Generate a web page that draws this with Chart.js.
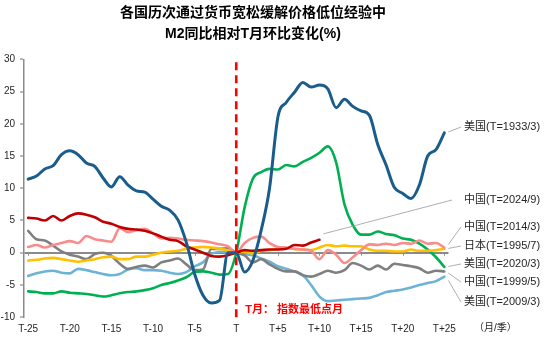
<!DOCTYPE html>
<html lang="zh-CN">
<head>
<meta charset="utf-8">
<title>M2同比相对T月环比变化</title>
<script src="https://cdn.jsdelivr.net/npm/chart.js@4.4.1/dist/chart.umd.min.js"></script>
<style>
  html, body { margin: 0; padding: 0; background: #fff; }
  #wrap { width: 550px; height: 341px; }
</style>
</head>
<body>
<div id="wrap"><canvas id="chart" width="550" height="341"></canvas></div>
<script>
// ===== Data (months relative to T, M2 yoy change vs month T, %) =====
const months = [-25, -24, -23, -22, -21, -20, -19, -18, -17, -16, -15, -14, -13, -12, -11, -10, -9, -8, -7, -6, -5, -4, -3, -2, -1,
  0, 1, 2, 3, 4, 5, 6, 7, 8, 9, 10, 11, 12, 13, 14, 15, 16, 17, 18, 19, 20, 21, 22, 23, 24, 25];

const xTickValues = [-25, -20, -15, -10, -5, 0, 5, 10, 15, 20, 25];
const xTickLabels = ['T-25', 'T-20', 'T-15', 'T-10', 'T-5', 'T', 'T+5', 'T+10', 'T+15', 'T+20', 'T+25'];

const us1933 = [11.4, 11.9, 13.0, 13.5, 15.2, 15.8, 15.2, 13.9, 13.4, 11.6, 10.2, 11.8, 10.5, 9.6, 9.4, 8.3, 7.2, 6.6, 5.1, 1.6, -3.3, -6.6, -7.8, -7.4, 0.0,
  0, -3.0, -1.2, 3.5, 10.0, 21.0, 23.3, 24.9, 26.4, 25.7, 26.0, 25.4, 22.5, 23.8, 22.7, 22.0, 21.3, 16.8, 13.6, 10.1, 9.2, 8.4, 10.5, 15.0, 16.0, 18.6];
const cn2024 = [5.4, 5.3, 5.0, 5.7, 5.0, 5.7, 6.1, 5.9, 5.5, 4.8, 4.5, 4.0, 3.7, 3.6, 3.4, 3.0, 2.5, 2.0, 1.8, 1.0, 0.5, 0.0, -0.5, -0.6, -0.4,
  0, 0.4, 0.3, 0.4, 0.5, 0.5, 0.6, 1.2, 1.1, 1.6, 2.0];
const cn2014 = [0.9, 1.2, 0.8, 1.2, 1.5, 1.8, 1.5, 2.6, 2.1, 1.9, 1.7, 3.8, 3.2, 3.5, 3.7, 3.0, 2.2, 2.3, 2.2, 2.0, 1.9, 1.8, 1.6, 1.3, 1.0,
  0, 1.5, 2.3, 2.5, 1.5, 0.9, 0.8, 0.6, 0.5, 0.3, -1.0, 0.4, -0.3, -1.6, -0.7, 0.4, 1.3, 1.2, 1.4, 1.2, 1.5, 1.4, 1.9, 1.4, 1.5, 0.8];
const jp1995 = [-1.2, -1.1, -0.9, -0.8, -1.0, -1.2, -1.4, -1.2, -1.0, -0.7, -0.6, -1.0, -1.0, -0.6, -0.6, -0.3, 0.0, 0.2, 0.3, 0.6, 0.8, 0.9, 0.8, 0.6, 0.4,
  0, 0.2, -0.1, 0.3, 0.4, 0.6, 0.7, 0.6, 0.5, 0.4, 0.8, 1.2, 1.0, 1.1, 1.0, 1.0, 0.5, 0.3, 0.3, 0.2, 0.2, 0.5, 0.3, 0.3, 0.4, 0.6];
const us2020 = [-6.0, -6.1, -6.3, -6.3, -6.0, -6.2, -6.3, -6.4, -6.6, -6.8, -6.6, -6.3, -6.1, -6.0, -5.8, -5.5, -5.0, -4.7, -4.3, -3.8, -3.0, -2.9, -3.1, -3.4, -3.3,
  0, 7.0, 11.5, 12.5, 13.0, 12.9, 13.6, 13.4, 14.1, 14.7, 15.5, 16.5, 14.0, 7.5, 4.3, 2.8, 2.8, 3.3, 2.9, 2.7, 2.2, 2.0, 1.4, 0.5, -0.7, -2.2];
const cn1999 = [3.4, 2.1, 1.9, 1.1, 0.2, -0.3, -0.6, -1.0, -0.2, 0.0, -0.5, -1.7, -2.5, -2.2, -2.0, -2.3, -1.5, -1.2, -0.9, -1.8, -2.7, -2.6, 0.6, 0.6, 0.7,
  0, -0.4, -1.5, -1.0, -1.8, -2.5, -2.9, -2.9, -3.5, -3.7, -3.3, -2.8, -3.1, -2.7, -1.6, -2.0, -2.6, -2.0, -2.6, -1.7, -1.9, -2.1, -2.4, -3.1, -2.8, -2.9];
const us2009 = [-3.6, -3.2, -2.9, -2.8, -3.1, -3.2, -2.5, -2.7, -3.0, -3.3, -3.5, -3.3, -2.6, -2.4, -2.7, -2.7, -2.8, -3.1, -3.3, -3.0, -2.1, -1.5, -0.2, 0.1, 0.2,
  0, -0.2, -0.4, -0.9, -1.4, -2.1, -2.5, -2.9, -3.5, -5.0, -6.8, -7.5, -7.4, -7.3, -7.2, -7.1, -7.0, -6.6, -6.1, -5.9, -5.7, -5.4, -5.0, -4.7, -4.4, -3.7];

// ===== Series styling (first entry is drawn on top) =====
const series = [
  { name: '美国(T=1933/3)', values: us1933, color: '#1a5d8b', width: 3,   labelY: 127 },
  { name: '中国(T=2024/9)', values: cn2024, color: '#c00000', width: 2.6, labelY: 200 },
  { name: '中国(T=2014/3)', values: cn2014, color: '#f98b8b', width: 2.6, labelY: 227 },
  { name: '日本(T=1995/7)', values: jp1995, color: '#ffc000', width: 2.6, labelY: 246 },
  { name: '美国(T=2020/3)', values: us2020, color: '#00b050', width: 2.6, labelY: 264 },
  { name: '中国(T=1999/5)', values: cn1999, color: '#7f7f7f', width: 2.6, labelY: 282 },
  { name: '美国(T=2009/3)', values: us2009, color: '#6db3d6', width: 2.6, labelY: 302 },
];

const titleLines = ['各国历次通过货币宽松缓解价格低位经验中', 'M2同比相对T月环比变化(%)'];
const markerText = 'T月： 指数最低点月';
const unitText = '（月/季）';

const fontStack = '"Liberation Sans", "Noto Sans CJK SC", sans-serif';
const axisGray = '#8a8a8a';

Chart.defaults.font.family = fontStack;
Chart.defaults.color = '#262626';

// ===== Extra drawing: title, T marker, end labels =====
const decorations = {
  id: 'decorations',
  beforeDatasetsDraw(chart) {
    const { ctx, scales: { x, y } } = chart;
    const y0 = y.getPixelForValue(0);
    ctx.save();
    ctx.strokeStyle = axisGray;
    ctx.lineWidth = 1;
    xTickValues.forEach(v => {
      const px = Math.round(x.getPixelForValue(v)) + 0.5;
      ctx.beginPath();
      ctx.moveTo(px, y0);
      ctx.lineTo(px, y0 + 3);
      ctx.stroke();
    });
    ctx.restore();
  },
  afterDatasetsDraw(chart) {
    const { ctx, chartArea, scales: { x } } = chart;
    const tx = x.getPixelForValue(0);
    ctx.save();
    ctx.strokeStyle = '#ff0000';
    ctx.lineWidth = 2.6;
    ctx.setLineDash([8, 5]);
    ctx.beginPath();
    ctx.moveTo(tx, chartArea.top + 3);
    ctx.lineTo(tx, chartArea.bottom + 3);
    ctx.stroke();
    ctx.setLineDash([]);

    ctx.fillStyle = '#ff0000';
    ctx.font = 'bold 11px ' + fontStack;
    ctx.textBaseline = 'middle';
    ctx.fillText(markerText, tx + 9, 310);
    ctx.restore();
  },
  afterDraw(chart) {
    const { ctx, scales: { x, y } } = chart;
    ctx.save();

    // title
    ctx.fillStyle = '#000';
    ctx.textAlign = 'center';
    ctx.textBaseline = 'middle';
    ctx.font = 'bold 14px ' + fontStack;
    ctx.fillText(titleLines[0], 253, 13.5);
    ctx.fillText(titleLines[1], 253, 34);

    // end labels with leader lines
    const labelX = 464;
    ctx.textAlign = 'left';
    ctx.font = '11px ' + fontStack;
    series.forEach(s => {
      const last = s.values.length - 1;
      const ex = x.getPixelForValue(months[last]) + 4;
      const ey = y.getPixelForValue(s.values[last]);
      ctx.strokeStyle = '#a6a6a6';
      ctx.lineWidth = 0.9;
      ctx.beginPath();
      ctx.moveTo(ex, ey + (s.labelY - ey) * 0.15);
      ctx.lineTo(labelX - (last < 50 ? 12 : 3), s.labelY);
      ctx.stroke();
      ctx.fillStyle = '#262626';
      ctx.fillText(s.name, labelX, s.labelY);
    });

    // unit
    ctx.font = '10px ' + fontStack;
    ctx.fillText(unitText, 474, 328);
    ctx.restore();
  }
};

// ===== Chart =====
const ctx = document.getElementById('chart').getContext('2d');
new Chart(ctx, {
  type: 'line',
  data: {
    datasets: series.map(s => ({
      label: s.name,
      data: s.values.map((v, i) => ({ x: months[i], y: v })),
      borderColor: s.color,
      backgroundColor: s.color,
      borderWidth: s.width,
      pointRadius: 0,
      cubicInterpolationMode: 'monotone',
      borderCapStyle: 'round',
      borderJoinStyle: 'round',
    })),
  },
  options: {
    responsive: false,
    animation: false,
    devicePixelRatio: 1,
    layout: { padding: { top: 59.3, right: 101.5, bottom: 0, left: 0 } },
    plugins: {
      legend: { display: false },
      title: { display: false },
      tooltip: { enabled: false },
    },
    scales: {
      x: {
        type: 'linear',
        min: -25.5,
        max: 25.5,
        afterBuildTicks: s => { s.ticks = xTickValues.map(v => ({ value: v })); },
        afterFit: s => { s.height = 23.8; },
        grid: { display: false, drawTicks: false },
        border: { display: false },
        ticks: {
          padding: 6,
          maxRotation: 0,
          font: { size: 10 },
          callback: v => xTickLabels[xTickValues.indexOf(v)],
        },
      },
      y: {
        min: -10,
        max: 30,
        afterFit: s => { s.width = 24; },
        grid: {
          color: c => (c.tick && c.tick.value === 0 ? axisGray : 'rgba(0,0,0,0)'),
          lineWidth: 2,
          tickColor: axisGray,
          tickLength: 4,
          tickWidth: 1.2,
        },
        border: { color: axisGray, width: 1.5 },
        ticks: { stepSize: 5, padding: 5, font: { size: 10 } },
      },
    },
  },
  plugins: [decorations],
});
</script>
</body>
</html>
